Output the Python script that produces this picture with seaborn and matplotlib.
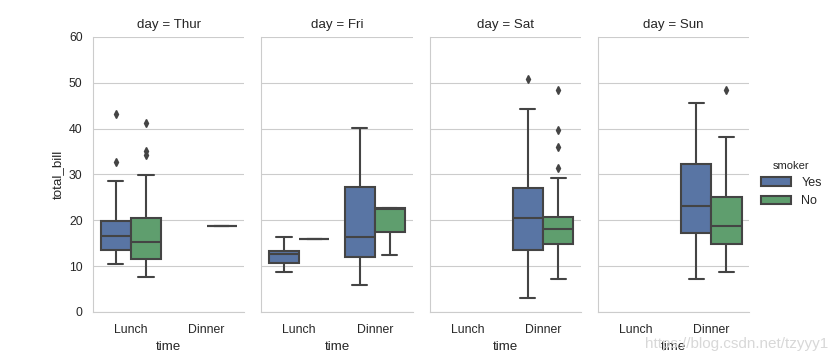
import pandas as pd
import matplotlib
matplotlib.use("Agg")
import matplotlib.pyplot as plt
import seaborn as sns

# total_bill values per (day, time, smoker)
thur_lunch_yes = [10.4, 11.5, 12.7, 13.5, 14.6, 15.7, 16.5, 17.4, 18.8, 19.9, 28.5, 32.8, 43.1]
thur_lunch_no = [7.7, 8.5, 9.6, 10.8, 11.6, 12.5, 13.4, 14.5, 15.3, 16.5, 17.9, 19.4, 20.5,
                 29.8, 34.3, 35.0, 41.2]
thur_dinner_no = [18.78]
fri_lunch_yes = [8.6, 10.6, 12.6, 13.3, 16.4]
fri_lunch_no = [15.98]
fri_dinner_yes = [5.9, 12.0, 16.4, 27.2, 40.1]
fri_dinner_no = [12.46, 22.49, 22.75]
sat_dinner_yes = [3.1, 9.6, 13.4, 17.0, 20.5, 24.0, 27.0, 44.3, 50.8]
sat_dinner_no = [7.2, 9.6, 11.4, 12.8, 14.0, 14.9, 15.6, 16.3, 16.9, 17.5, 18.0,
                 18.6, 19.1, 19.7, 20.3, 20.8, 29.1, 31.3, 35.9, 39.6, 48.3]
sun_dinner_yes = [7.2, 17.2, 23.2, 32.3, 45.5]
sun_dinner_no = [8.8, 12.5, 14.9, 16.8, 18.7, 21.4, 25.1, 38.2, 48.3]

days = ["Thur", "Fri", "Sat", "Sun"]
times = ["Lunch", "Dinner"]
smokers = ["Yes", "No"]

groups = [
    ("Thur", "Lunch", "Yes", thur_lunch_yes),
    ("Thur", "Lunch", "No", thur_lunch_no),
    ("Thur", "Dinner", "No", thur_dinner_no),
    ("Fri", "Lunch", "Yes", fri_lunch_yes),
    ("Fri", "Lunch", "No", fri_lunch_no),
    ("Fri", "Dinner", "Yes", fri_dinner_yes),
    ("Fri", "Dinner", "No", fri_dinner_no),
    ("Sat", "Dinner", "Yes", sat_dinner_yes),
    ("Sat", "Dinner", "No", sat_dinner_no),
    ("Sun", "Dinner", "Yes", sun_dinner_yes),
    ("Sun", "Dinner", "No", sun_dinner_no),
]

rows = []
for day, time, smoker, vals in groups:
    for v in vals:
        rows.append({"day": day, "time": time, "smoker": smoker, "total_bill": v})
tips = pd.DataFrame(rows)

sns.set_style("whitegrid")
plt.rcParams["font.family"] = ["Liberation Sans", "DejaVu Sans"]
plt.rcParams["font.size"] = 9
plt.rcParams["axes.labelsize"] = 9.6
plt.rcParams["axes.titlesize"] = 10.4
plt.rcParams["xtick.labelsize"] = 8.8
plt.rcParams["ytick.labelsize"] = 8.8
plt.rcParams["legend.fontsize"] = 9
plt.rcParams["legend.title_fontsize"] = 8

g = sns.catplot(data=tips, kind="box", x="time", y="total_bill", hue="smoker",
                col="day", col_order=days, order=times, hue_order=smokers,
                palette=["#4C72B0", "#55A868"], linewidth=1.5, linecolor="#444444",
                flierprops={"marker": "d", "markersize": 4,
                            "markerfacecolor": "#444444", "markeredgecolor": "#444444"},
                height=3, aspect=0.6)

g.figure.set_size_inches(8.38, 3.61)
g.set(ylim=(0, 60), yticks=range(0, 61, 10))
g.figure.subplots_adjust(left=0.111, right=0.894, bottom=0.136, top=0.898, wspace=0.112)
for ax in g.axes.flat:
    ax.tick_params(axis="x", pad=5)
    ax.tick_params(axis="y", pad=4)

sns.move_legend(g, "center left", bbox_to_anchor=(0.895, 0.49), frameon=False,
                title="smoker", handlelength=2.4)

g.figure.text(0.988, 0.047, "https://blog.csdn.net/tzyyy1", ha="right", va="center",
              color="#d8d8d8", fontsize=11)

g.figure.savefig("out.png", dpi=100)
